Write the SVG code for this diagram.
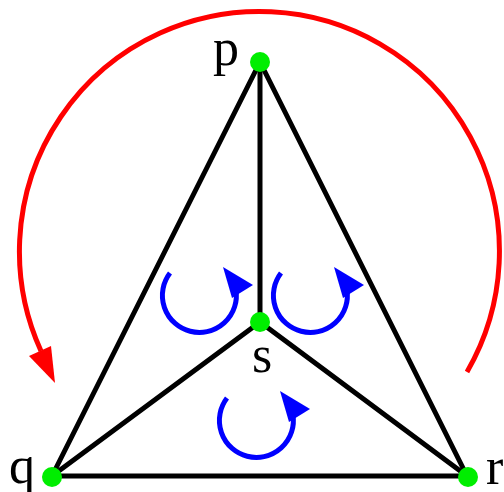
<svg xmlns="http://www.w3.org/2000/svg" width="504" height="492" viewBox="0 0 504 492">
<style>
.edge{stroke:#000;stroke-width:5;fill:none;stroke-linecap:round}
.node{fill:#00ee00}
.lbl{font-family:"Liberation Serif","Times New Roman",serif;font-size:52px;fill:#000}
.red{stroke:#ff0000;stroke-width:5;fill:none}
.blue{stroke:#0000ff;stroke-width:5;fill:none}
</style>
<rect width="504" height="492" fill="#fff"/>
<g id="rotation">
<path class="red" d="M467,372 A240,240 0 1,0 41,351"/>
<polygon fill="#ff0000" points="55,383 29,356 51,346"/>
</g>
<g id="connectors">
<line class="edge" x1="260" y1="62" x2="52" y2="476"/>
<line class="edge" x1="260" y1="62" x2="467" y2="476"/>
<line class="edge" x1="260" y1="62" x2="260" y2="322"/>
<line class="edge" x1="260" y1="322" x2="52" y2="476"/>
<line class="edge" x1="260" y1="322" x2="467" y2="476"/>
<line class="edge" x1="52" y1="476" x2="467" y2="476"/>
</g>
<g id="loops">
<path class="blue" d="M170,273 A37,37 0 1,0 236,290"/>
<polygon fill="#0000ff" points="223,267 253,285 232,298"/>
<path class="blue" d="M281,273 A37,37 0 1,0 347,290"/>
<polygon fill="#0000ff" points="334,267 364,285 343,298"/>
<path class="blue" d="M227,398 A37,37 0 1,0 293,415"/>
<polygon fill="#0000ff" points="280,391 310,409 289,422"/>
</g>
<g id="node-p"><circle class="node" cx="260" cy="62" r="10"/><text class="lbl" x="213" y="65">p</text></g>
<g id="node-s"><circle class="node" cx="260" cy="322" r="10"/><text class="lbl" x="262" y="372" text-anchor="middle">s</text></g>
<g id="node-q"><circle class="node" cx="52" cy="477" r="10"/><text class="lbl" x="9" y="483">q</text></g>
<g id="node-r"><circle class="node" cx="468" cy="477" r="10"/><text class="lbl" x="486" y="484">r</text></g>
</svg>
